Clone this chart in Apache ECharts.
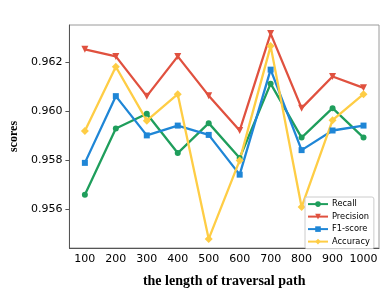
<!DOCTYPE html>
<html><head><meta charset="utf-8">
<script src="https://cdn.jsdelivr.net/npm/echarts@6/dist/echarts.min.js"></script>
<style>html,body{margin:0;padding:0;background:#fff}#c{width:390px;height:293px}</style>
</head><body><div id="c"></div>
<script>
const categories = ['100','200','300','400','500','600','700','800','900','1000'];
const recall    = [0.95658,0.95928,0.95988,0.95828,0.95950,0.95808,0.96111,0.95891,0.96011,0.95891];
const precision = [0.96251,0.96222,0.96060,0.96222,0.96062,0.95920,0.96315,0.96011,0.96140,0.96094];
const f1score   = [0.95788,0.96060,0.95900,0.95940,0.95902,0.95740,0.96168,0.95840,0.95920,0.95940];
const accuracy  = [0.95918,0.96180,0.95960,0.96068,0.95478,0.95798,0.96264,0.95608,0.95962,0.96068];
const yTicks = [0.956,0.958,0.960,0.962];
const seriesNames = ['Recall','Precision','F1-score','Accuracy'];

const chart = echarts.init(document.getElementById('c'), null, {renderer:'canvas'});
const mk = (name, data, color, symbol, size, rot) => ({
  name, type:'line', data, symbol, symbolSize:size, symbolRotate:rot||0,
  lineStyle:{color, width:2.3}, itemStyle:{color}, showSymbol:true, animation:false
});
chart.setOption({
  animation:false,
  grid:{left:62,right:11,top:25,bottom:40,show:true,borderColor:'#9a9a9a',borderWidth:1,backgroundColor:'transparent'},
  xAxis:{type:'category',data:categories,boundaryGap:true,
    name:'the length of traversal path',nameLocation:'middle',nameGap:26,
    nameTextStyle:{fontFamily:'Liberation Serif',fontWeight:'bold',fontSize:14,color:'#000'},
    axisLine:{lineStyle:{color:'#555',width:1}},
    axisTick:{alignWithLabel:true,length:4,lineStyle:{color:'#555'}},
    axisLabel:{fontFamily:'DejaVu Sans',fontSize:11,color:'#000',margin:6,interval:0},
    splitLine:{show:false}},
  yAxis:{type:'value',min:0.95441,max:0.9635,
    name:'scores',nameLocation:'middle',nameGap:48,nameRotate:90,
    nameTextStyle:{fontFamily:'Liberation Serif',fontWeight:'bold',fontSize:12,color:'#000'},
    axisLine:{show:true,lineStyle:{color:'#555',width:1}},
    axisTick:{show:true,length:4,lineStyle:{color:'#555'},customValues:yTicks},
    axisLabel:{fontFamily:'DejaVu Sans',fontSize:11,color:'#000',margin:7,customValues:yTicks,
      formatter:v=>v.toFixed(3)},
    splitLine:{show:false}},
  legend:{data:seriesNames,orient:'vertical',left:305,top:197,
    itemWidth:20,itemHeight:7,itemGap:2.3,
    padding:[2,4,2,2],borderColor:'#ccc',borderWidth:1,borderRadius:2,backgroundColor:'#fff',
    textStyle:{fontFamily:'DejaVu Sans',fontSize:8.3,color:'#000',lineHeight:10.2,padding:[0,0,0,-1]}},
  series:[
    mk('Recall',recall,'#1f9e5c','circle',6),
    mk('Precision',precision,'#e0513f','triangle',7,180),
    mk('F1-score',f1score,'#1f86d6','rect',6),
    mk('Accuracy',accuracy,'#fecd45','diamond',8)
  ]
});
</script></body></html>
